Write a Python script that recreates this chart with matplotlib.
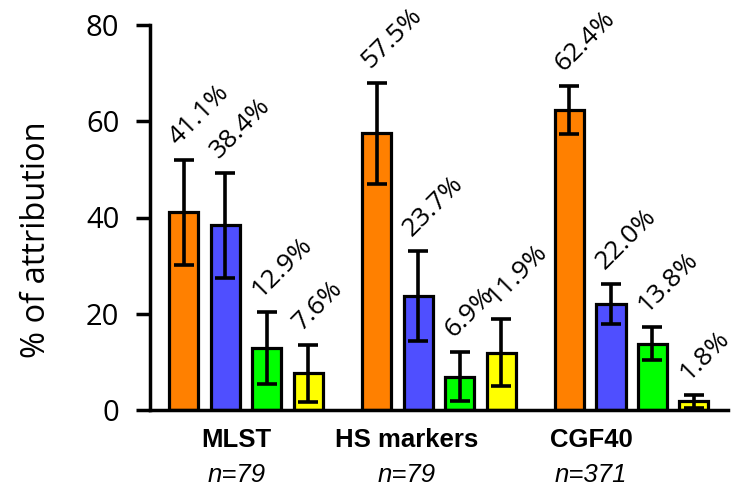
import matplotlib
matplotlib.use("Agg")
import matplotlib.pyplot as plt
import matplotlib.transforms as mtransforms
import numpy as np

groups = ["MLST", "HS markers", "CGF40"]
group_n = ["n=79", "n=79", "n=371"]
colors = ["#FF8000", "#4F4FFF", "#00FF00", "#FFFF00"]

values = [
    [41.1, 38.4, 12.9, 7.6],
    [57.5, 23.7, 6.9, 11.9],
    [62.4, 22.0, 13.8, 1.8],
]
errors = [
    [10.9, 10.9, 7.5, 6.0],
    [10.5, 9.4, 5.1, 7.0],
    [5.0, 4.2, 3.5, 1.3],
]

GROUP_STEP = 4.65
BAR_W = 0.7
# group label centres, relative to each group's first bar
LABEL_OFFSETS = [1.27, 0.72, 0.52]

fig = plt.figure(figsize=(7.38, 4.88), dpi=100)
ax = fig.add_axes([150 / 738, 1 - 410 / 488, (728 - 150) / 738, (410 - 25) / 488])

for g, (vals, errs) in enumerate(zip(values, errors)):
    xs = g * GROUP_STEP + np.arange(len(vals))
    ax.bar(xs, vals, width=BAR_W, color=colors, edgecolor="black", linewidth=2.3, zorder=2)
    ax.errorbar(xs, vals, yerr=errs, fmt="none", ecolor="black", elinewidth=2.6,
                capsize=7, capthick=2.6, zorder=3)
    for x, v, e in zip(xs, vals, errs):
        ax.text(x - 0.04, v + e + 2.0, f"{v:.1f}%", rotation=45, rotation_mode="anchor",
                ha="left", va="bottom", fontsize=19, family="Open Sans")

trans = mtransforms.blended_transform_factory(ax.transData, fig.transFigure)
for g, (name, n) in enumerate(zip(groups, group_n)):
    x = g * GROUP_STEP + LABEL_OFFSETS[g]
    ax.text(x, 1 - 447 / 488, name, transform=trans, ha="center", va="baseline",
            fontsize=18.5, fontweight="bold", family="Liberation Sans")
    ax.text(x, 1 - 482 / 488, n, transform=trans, ha="center", va="baseline",
            fontsize=18.5, fontstyle="italic", family="Liberation Sans")

ax.set_xlim(-0.81, 13.12)
ax.set_ylim(0, 80)
ax.set_yticks([0, 20, 40, 60, 80])
ax.set_xticks([])
for lbl in ax.get_yticklabels():
    lbl.set_family("Open Sans")
ax.tick_params(axis="y", length=10, width=2.5, labelsize=21, pad=12)
ax.spines["top"].set_visible(False)
ax.spines["right"].set_visible(False)
ax.spines["left"].set_linewidth(2.5)
ax.spines["bottom"].set_linewidth(2.5)

fig.text(37 / 738, 1 - 240 / 488, "% of attribution", rotation=90, ha="center", va="center",
         fontsize=23.5, family="Open Sans")

fig.savefig("out.png", dpi=100)
